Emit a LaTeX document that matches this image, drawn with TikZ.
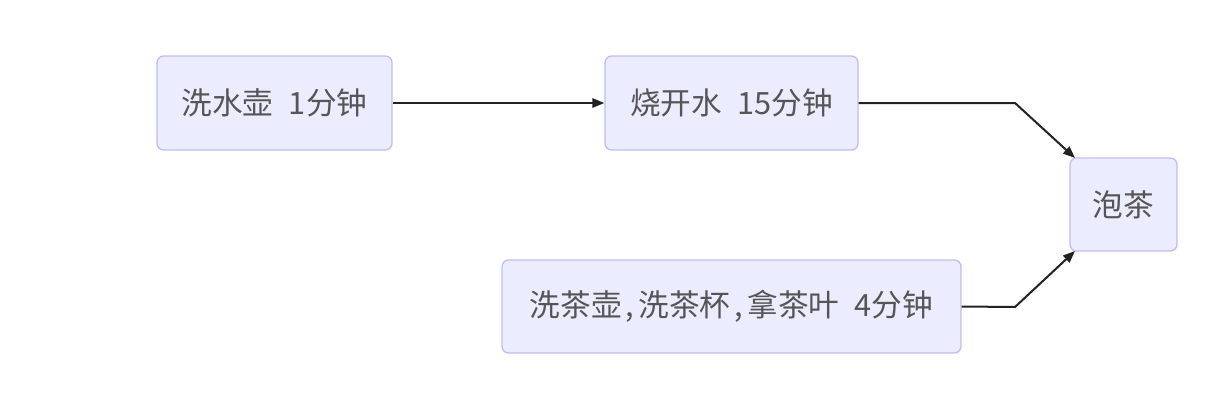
\documentclass[tikz,border=0pt]{standalone}
\usepackage{fontspec}
\setmainfont{Noto Sans CJK SC}
\usetikzlibrary{arrows.meta}
\definecolor{boxfill}{HTML}{ECECFF}
\definecolor{boxline}{HTML}{C4BBEE}
\definecolor{txt}{HTML}{555555}
\definecolor{edge}{HTML}{222222}
\begin{document}
\begin{tikzpicture}[x=0.75pt,y=-0.75pt,
  box/.style={draw=boxline,fill=boxfill,line width=1pt,rounded corners=5pt,
    text=txt,font=\fontsize{23pt}{27pt}\selectfont,inner sep=0pt,anchor=center},
  link/.style={draw=edge,line width=1.5pt,-{Triangle[length=9pt,width=7pt]}}]
\useasboundingbox (0,0) rectangle (1220,400);
\node[box,minimum width=176.25pt,minimum height=70.5pt] (A) at (274.5,103) {洗水壶\hspace{0.5em}1分钟};
\node[box,minimum width=189.75pt,minimum height=70.5pt] (B) at (731.5,103) {烧开水\hspace{0.5em}15分钟};
\node[box,minimum width=80.25pt,minimum height=69.75pt] (C) at (1123.5,204.5) {泡茶};
\node[box,minimum width=344.25pt,minimum height=69.75pt] (D) at (731.5,306.5) {洗茶壶\hspace{0.12em},\hspace{0.15em}洗茶杯\hspace{0.12em},\hspace{0.15em}拿茶叶\hspace{0.5em}4分钟};
\coordinate (b1) at (1015,103);
\coordinate (d1) at (1015,307);
\coordinate (ct) at (1075,158);
\coordinate (cb) at (1075,251);
\draw[link] (A.east) -- (B.west);
\draw[link] (B.east) -- (b1) -- (ct);
\draw[link] (D.east) -- (d1) -- (cb);
\end{tikzpicture}
\end{document}
